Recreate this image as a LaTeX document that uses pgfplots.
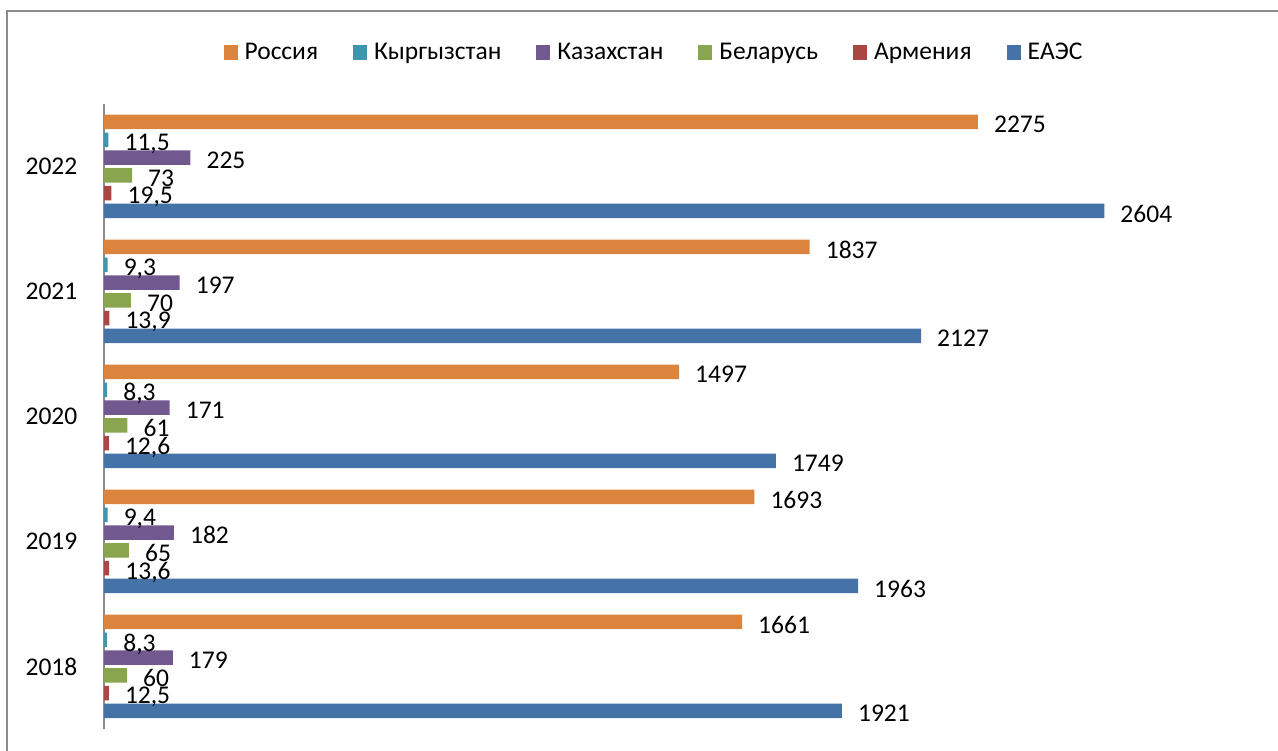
\documentclass[border=0pt]{standalone}
\usepackage{fontspec}
\setmainfont{Carlito}
\usepackage{pgfplots}
\pgfplotsset{compat=1.18}
\definecolor{cRu}{HTML}{DB843D}
\definecolor{cKg}{HTML}{3D96AE}
\definecolor{cKz}{HTML}{71588F}
\definecolor{cBy}{HTML}{89A54E}
\definecolor{cAm}{HTML}{AA4643}
\definecolor{cEa}{HTML}{4572A7}
\begin{document}
\fontsize{25.5}{30}\selectfont
\begin{tikzpicture}[x=1pt,y=1pt]
\path[use as bounding box] (0,0) rectangle (1278,751);
\draw[line width=2pt, color=black!45] (7,0) -- (7,740) -- (1278,740);
\begin{axis}[
  at={(104pt,22pt)}, anchor=south west, scale only axis,
  width=1114pt, height=625pt,
  xmin=0, xmax=2900, ymin=-0.5, ymax=4.5,
  xbar, bar width=14.5pt,
  axis x line=none, axis y line*=left,
  y axis line style={-, draw=black!45, line width=1.5pt},
  ytick={0,1,2,3,4}, yticklabels={2018,2019,2020,2021,2022},
  major tick length=0pt,
  yticklabel style={xshift=-18pt},
  /pgf/number format/.cd, use comma, 1000 sep={}, assume math mode=true, /pgfplots/.cd,
  point meta=x,
  nodes near coords,
  every node near coord/.append style={text=black, anchor=west, inner sep=0pt, xshift=16pt, text depth=0pt, yshift=-2.5pt},
  legend columns=6,
  legend style={at={(0.4928,1.0816)}, anchor=center, draw=none, fill=none,
    /tikz/every odd column/.append style={column sep=7pt},
    /tikz/every even column/.append style={column sep=35pt},
    nodes={inner sep=0pt}},
  legend image code/.code={\fill (0pt,-7.5pt) rectangle (14pt,7.5pt);},
]
\addplot[fill=cRu, draw=none, bar shift=44.5pt] coordinates {(1661,0) (1693,1) (1497,2) (1837,3) (2275,4)};
\addplot[fill=cKg, draw=none, bar shift=26.7pt] coordinates {(8.3,0) (9.4,1) (8.3,2) (9.3,3) (11.5,4)};
\addplot[fill=cKz, draw=none, bar shift=8.9pt] coordinates {(179,0) (182,1) (171,2) (197,3) (225,4)};
\addplot[fill=cBy, draw=none, bar shift=-8.9pt] coordinates {(60,0) (65,1) (61,2) (70,3) (73,4)};
\addplot[fill=cAm, draw=none, bar shift=-26.7pt] coordinates {(12.5,0) (13.6,1) (12.6,2) (13.9,3) (19.5,4)};
\addplot[fill=cEa, draw=none, bar shift=-44.5pt] coordinates {(1921,0) (1963,1) (1749,2) (2127,3) (2604,4)};
\legend{Россия, Кыргызстан, Казахстан, Беларусь, Армения, ЕАЭС}
\end{axis}
\end{tikzpicture}
\end{document}
